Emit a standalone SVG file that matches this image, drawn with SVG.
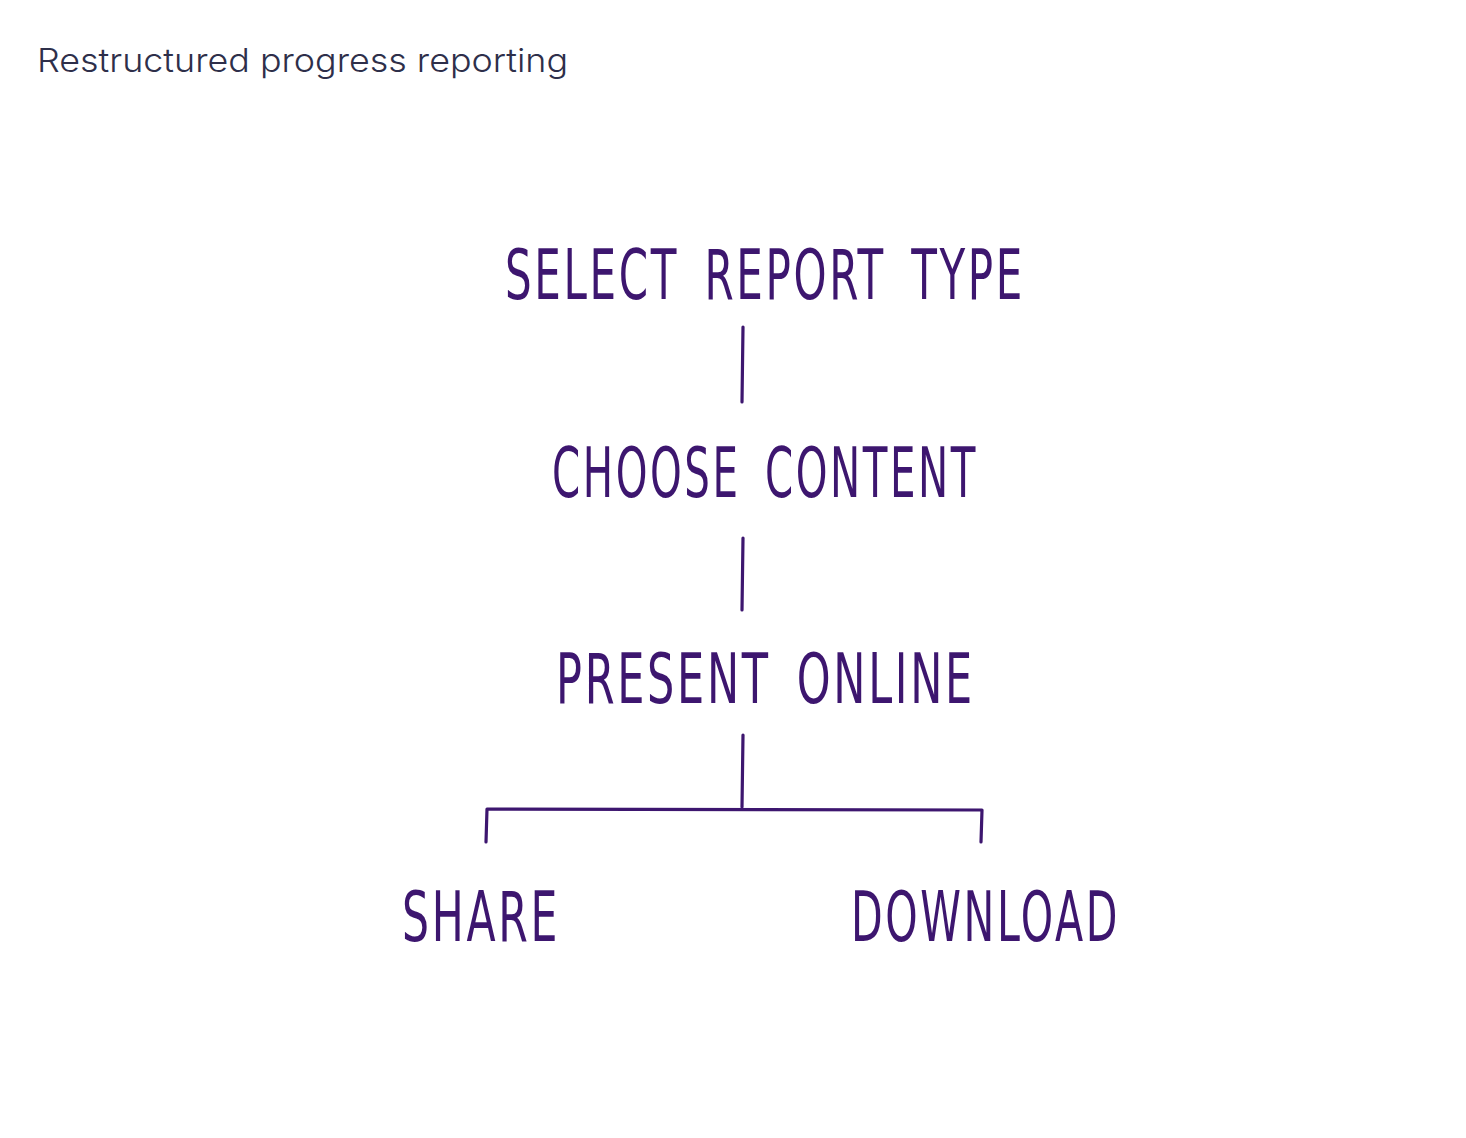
<svg xmlns="http://www.w3.org/2000/svg" width="1466" height="1138" viewBox="0 0 1466 1138">
<style>
.title{font-family:Inter,"Liberation Sans",sans-serif;font-size:33px;font-weight:300;fill:#2e2f4a}
.node{font-family:"DejaVu Sans Condensed","Liberation Sans Narrow","Liberation Sans",sans-serif;font-size:70px;letter-spacing:4px;word-spacing:14px;fill:#3d166f}
.conn{stroke:#3d166f;stroke-width:3.2;stroke-linecap:round;stroke-linejoin:round;fill:none}
</style>
<rect width="1466" height="1138" fill="#ffffff"/>
<text class="title" x="37" y="72" textLength="531" lengthAdjust="spacingAndGlyphs">Restructured progress reporting</text>
<g id="node-select"><text class="node" x="505" y="299" textLength="520" lengthAdjust="spacingAndGlyphs">SELECT REPORT TYPE</text></g>
<g id="node-choose"><text class="node" x="552" y="497" textLength="426" lengthAdjust="spacingAndGlyphs">CHOOSE CONTENT</text></g>
<g id="node-present"><text class="node" x="556" y="703" textLength="419" lengthAdjust="spacingAndGlyphs">PRESENT ONLINE</text></g>
<g id="node-share"><text class="node" x="402" y="941" textLength="158" lengthAdjust="spacingAndGlyphs">SHARE</text></g>
<g id="node-download"><text class="node" x="851" y="941" textLength="269" lengthAdjust="spacingAndGlyphs">DOWNLOAD</text></g>
<g id="connectors">
<path class="conn" d="M743 327 L742 402"/>
<path class="conn" d="M743 538 L742 610"/>
<path class="conn" d="M743 735 L742 807"/>
<path class="conn" d="M486 842 L487 809 L982 810 L981 842"/>
</g>
</svg>
